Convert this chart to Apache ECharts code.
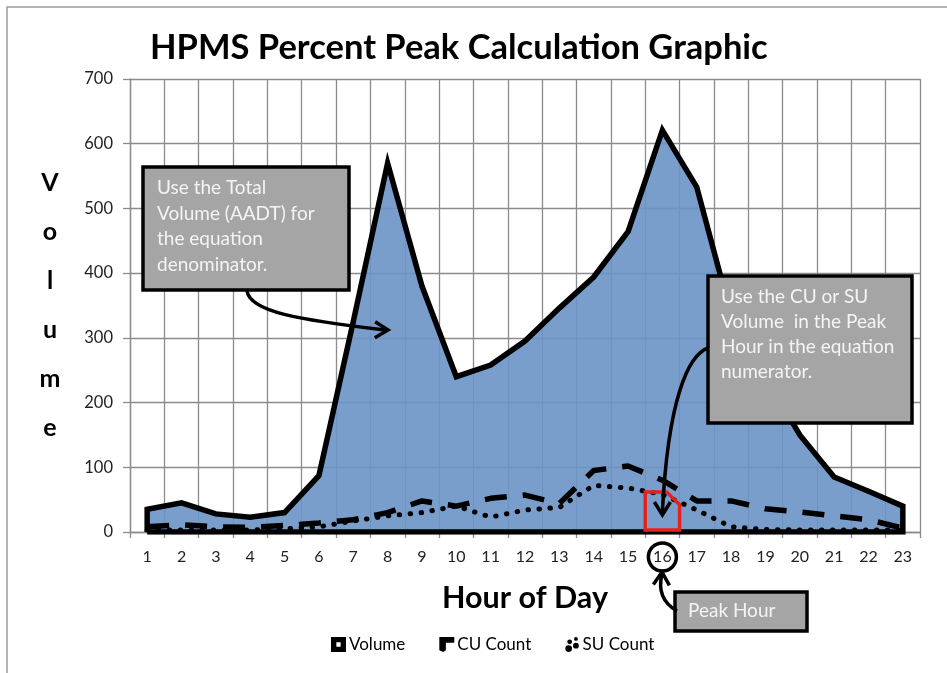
<!DOCTYPE html>
<html>
<head>
<meta charset="utf-8">
<title>HPMS Percent Peak Calculation Graphic</title>
<script src="https://cdn.jsdelivr.net/npm/echarts@6/dist/echarts.min.js"></script>
<style>
    html, body { margin: 0; padding: 0; background: #fff; }
    #main { width: 947px; height: 673px; }
</style>
</head>
<body>
<div id="main"></div>
<script>
// hour of day categories
var hours = ['1', '2', '3', '4', '5', '6', '7', '8', '9', '10', '11', '12',
    '13', '14', '15', '16', '17', '18', '19', '20', '21', '22', '23'];
// total volume (AADT) per hour
var volume = [35, 45, 28, 23, 30, 87, 325, 570, 380, 240, 258, 295,
    346, 394, 464, 621, 533, 335, 240, 150, 85, 63, 40];
// combination unit trucks
var cuCount = [8, 11, 8, 7, 10, 14, 19, 30, 48, 40, 52, 57,
    44, 95, 102, 80, 48, 48, 36, 31, 25, 19, 6];
// single unit trucks
var suCount = [3, 3, 3, 3, 5, 8, 17, 25, 30, 40, 23, 34,
    38, 72, 68, 58, 34, 8, 4, 3, 3, 3, 3];
var yTicks = [0, 100, 200, 300, 400, 500, 600, 700];
var peakHour = '16';

var FONT = 'Lato';

// volume outline is a closed shape: up at hour 1, along the values, down at hour 23, back along 0
function closedArea(vals) {
    var out = [[0, 0]];
    for (var i = 0; i < vals.length; i++) {
        out.push([i, vals[i]]);
    }
    out.push([vals.length - 1, 0]);
    out.push([0, 0]);
    return out;
}

var myChart = echarts.init(document.getElementById('main'));

var option = {
    backgroundColor: '#fff',
    animation: false,
    title: {
        text: 'HPMS Percent Peak Calculation Graphic',
        left: 145,
        top: 25,
        textStyle: { fontFamily: FONT, fontSize: 34.5, fontWeight: 'bold', color: '#000' }
    },
    legend: {
        bottom: 15,
        left: 326,
        itemWidth: 15,
        itemHeight: 15,
        itemGap: 34,
        textStyle: { fontFamily: FONT, fontSize: 17, color: '#000', padding: [0, 0, 0, -2] },
        data: [
            { name: 'Volume', icon: 'path://M0,0 L14,0 L14,14 L0,14 Z M5,5 L5,9 L9,9 L9,5 Z', itemStyle: { color: '#000' } },
            { name: 'CU Count', icon: 'path://M0,0 L16,0 L16,6 L7,6 L7,14 L4,16 L0,14 Z', itemStyle: { color: '#000' } },
            { name: 'SU Count', icon: 'path://M1,11 a3.5,3.5 0 1,0 7,0 a3.5,3.5 0 1,0 -7,0 Z M9,8 a3,3 0 1,0 6,0 a3,3 0 1,0 -6,0 Z M3,4 a2.5,2.5 0 1,0 5,0 a2.5,2.5 0 1,0 -5,0 Z M10,1 a2,2 0 1,0 4,0 a2,2 0 1,0 -4,0 Z', itemStyle: { color: '#000' } }
        ]
    },
    grid: { left: 130, right: 27, top: 79, bottom: 141 },
    xAxis: {
        type: 'category',
        data: hours,
        boundaryGap: true,
        name: 'Hour of Day',
        nameLocation: 'middle',
        nameGap: 51,
        nameTextStyle: { fontFamily: FONT, fontSize: 30.5, fontWeight: 'bold', color: '#000' },
        axisLine: { lineStyle: { color: '#8c8c8c', width: 1.3 } },
        axisTick: { show: true, length: 6, lineStyle: { color: '#8c8c8c', width: 1.3 } },
        axisLabel: { fontFamily: FONT, fontSize: 16, color: '#222', margin: 17, interval: 0 },
        splitLine: { show: true, interval: 0, lineStyle: { color: '#8c8c8c', width: 1.3 } }
    },
    yAxis: {
        type: 'value',
        min: yTicks[0],
        max: yTicks[yTicks.length - 1],
        interval: 100,
        name: 'V\no\nl\nu\nm\ne',
        nameLocation: 'middle',
        nameRotate: 0,
        nameGap: 80,
        nameTextStyle: { fontFamily: FONT, fontSize: 25, fontWeight: 'bold', color: '#000',
            align: 'center', lineHeight: 49, padding: [15, 0, 0, 0] },
        axisLine: { show: true, lineStyle: { color: '#8c8c8c', width: 1.3 } },
        axisTick: { show: true, length: 7, lineStyle: { color: '#8c8c8c', width: 1.3 } },
        axisLabel: { fontFamily: FONT, fontSize: 16.5, color: '#222', margin: 17 },
        splitLine: { show: true, lineStyle: { color: '#8c8c8c', width: 1.3 } }
    },
    series: [
        {
            name: 'Volume',
            type: 'line',
            data: closedArea(volume),
            symbol: 'none',
            z: 2,
            lineStyle: { color: '#000', width: 5.5, join: 'miter' },
            itemStyle: { color: '#7097c8' },
            areaStyle: { color: '#6a93c6', opacity: 0.9 }
        },
        {
            name: 'CU Count',
            type: 'line',
            data: cuCount,
            symbol: 'none',
            z: 3,
            lineStyle: { color: '#000', width: 5.5, type: [22, 16], cap: 'butt' },
            itemStyle: { color: '#000' }
        },
        {
            name: 'SU Count',
            type: 'line',
            data: suCount,
            symbol: 'none',
            z: 4,
            lineStyle: { color: '#000', width: 5, type: [0.5, 10.5], cap: 'round' },
            itemStyle: { color: '#000' }
        }
    ]
};
myChart.setOption(option);

// annotations: callout boxes, arrows, peak hour marks
function arrowHead(tip, dx, dy) {
    // dx,dy: unit direction the arrow points to
    var len = 13, w = 8;
    var bx = tip[0] - dx * len, by = tip[1] - dy * len;
    return {
        type: 'polyline', z: 120,
        shape: { points: [[bx - dy * w, by + dx * w], tip, [bx + dy * w, by - dx * w]] },
        style: { stroke: '#000', lineWidth: 3.5, fill: null }
    };
}
function callout(x, y, w, h, text, tx, ty, lh) {
    return [
        { type: 'rect', z: 110, shape: { x: x, y: y, width: w, height: h },
            style: { fill: '#a5a5a5', stroke: '#000', lineWidth: 3.5 } },
        { type: 'text', z: 111, x: tx, y: ty,
            style: { text: text, fontFamily: FONT, fontSize: 19, fill: '#f4f4f4', lineHeight: lh } }
    ];
}

function drawAnnotations() {
    var band = myChart.convertToPixel({ xAxisIndex: 0 }, peakHour);
    var step = (myChart.convertToPixel({ xAxisIndex: 0 }, hours[1]) - myChart.convertToPixel({ xAxisIndex: 0 }, hours[0]));
    var x0 = band - step / 2, x1 = band + step / 2;
    var yTop = myChart.convertToPixel({ yAxisIndex: 0 }, 62);
    var yCut = myChart.convertToPixel({ yAxisIndex: 0 }, 42);
    var yBot = myChart.convertToPixel({ yAxisIndex: 0 }, 3);

    var els = [
        // page frame
        { type: 'rect', z: 0, shape: { x: 7, y: 7, width: 1000, height: 700 },
            style: { fill: null, stroke: '#9c9c9c', lineWidth: 1.5 } },
        // peak hour red box
        { type: 'polygon', z: 105,
            shape: { points: [[x0, yTop], [x1 - 13, yTop], [x1, yCut], [x1, yBot], [x0, yBot]] },
            style: { fill: null, stroke: '#e8201c', lineWidth: 3.5 } },
        // circle on the 16 label
        { type: 'circle', z: 105, shape: { cx: band, cy: 557, r: 14 },
            style: { fill: null, stroke: '#000', lineWidth: 3.5 } }
    ];
    els = els.concat(callout(143, 167, 206, 123,
        'Use the Total\nVolume (AADT) for\nthe equation\ndenominator.', 157, 175, 25.6));
    els = els.concat(callout(708, 276, 204, 147,
        'Use the CU or SU\nVolume  in the Peak\nHour in the equation\nnumerator.', 721, 284.5, 25));
    els = els.concat(callout(675, 592, 132, 39, 'Peak Hour', 688, 600, 22));

    // arrow from total volume box into the area
    els.push({ type: 'bezierCurve', z: 120,
        shape: { x1: 247, y1: 291, cpx1: 250, cpy1: 312, cpx2: 300, cpy2: 320, x2: 385, y2: 330 },
        style: { stroke: '#000', lineWidth: 3.5, fill: null } });
    els.push(arrowHead([388, 330], 1, 0.02));
    // arrow from CU/SU box into the red box
    els.push({ type: 'bezierCurve', z: 120,
        shape: { x1: 708, y1: 348, cpx1: 688, cpy1: 355, cpx2: 668, cpy2: 400, x2: band, y2: 512 },
        style: { stroke: '#000', lineWidth: 3.5, fill: null } });
    els.push(arrowHead([band, 515], 0, 1));
    // arrow from peak hour box to the circled label
    els.push({ type: 'bezierCurve', z: 120,
        shape: { x1: 677, y1: 611, cpx1: 663, cpy1: 603, cpx2: 658, cpy2: 590, x2: 662, y2: 574 },
        style: { stroke: '#000', lineWidth: 3.5, fill: null } });
    els.push(arrowHead([662, 572], 0.05, -1));

    myChart.setOption({ graphic: { elements: els } });
}
drawAnnotations();
window.onresize = myChart.resize;
</script>
</body>
</html>
